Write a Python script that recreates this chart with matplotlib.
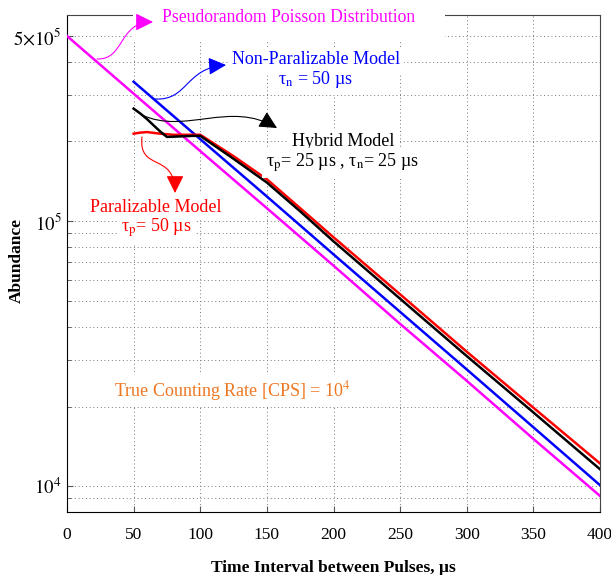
import numpy as np
import matplotlib
matplotlib.use("Agg")
import matplotlib.pyplot as plt
from matplotlib.patches import FancyArrowPatch, Rectangle
from matplotlib.path import Path
from matplotlib.ticker import FixedLocator, FixedFormatter, LogLocator, NullFormatter

plt.rcParams['font.family'] = ['Liberation Serif', 'DejaVu Serif']
plt.rcParams['mathtext.fontset'] = 'stix'

# --- datos ---
t_poisson = [0, 50, 100, 150, 200, 250, 300, 350, 400]
n_poisson = [5.0e5, 3.03e5, 1.84e5, 1.12e5, 6.8e4, 4.1e4, 2.5e4, 1.51e4, 9.2e3]

t_nonpar = [50, 100, 150, 200, 250, 300, 350, 400]
n_nonpar = [3.36e5, 2.04e5, 1.24e5, 7.5e4, 4.55e4, 2.76e4, 1.67e4, 1.01e4]

t_hybrid = [50, 55, 60, 65, 70, 75, 85, 95, 100, 125, 150, 175, 200, 250, 300, 350, 400]
n_hybrid = [2.66e5, 2.55e5, 2.43e5, 2.30e5, 2.18e5, 2.08e5, 2.09e5, 2.10e5, 2.10e5,
            1.72e5, 1.40e5, 1.09e5, 8.4e4, 5.1e4, 3.1e4, 1.9e4, 1.16e4]

t_paral = [50, 55, 60, 70, 80, 90, 100, 125, 150, 175, 200, 250, 300, 350, 400]
n_paral = [2.14e5, 2.16e5, 2.17e5, 2.14e5, 2.12e5, 2.12e5, 2.12e5, 1.76e5, 1.44e5,
           1.12e5, 8.7e4, 5.3e4, 3.22e4, 1.98e4, 1.22e4]

x_ticks = [0, 50, 100, 150, 200, 250, 300, 350, 400]
y_ticks = [1e4, 1e5, 5e5]
y_ticklabels = [r'$10^{4}$', r'$10^{5}$', r'$5{\times}10^{5}$']

W, H = 611, 575


def px(x, y):
    # pixeles de la imagen -> fraccion de figura
    return (x / W, 1 - y / H)


fig = plt.figure(figsize=(W / 100, H / 100), dpi=100)
ax = fig.add_axes([67 / W, 1 - 512 / H, (600 - 67) / W, (512 - 15) / H])

lw = 1.8
ax.plot(t_poisson, n_poisson, color='#FF00FF', lw=lw, zorder=3)
ax.plot(t_nonpar, n_nonpar, color='#0000FF', lw=lw, zorder=3)
ax.plot(t_paral, n_paral, color='#FF0000', lw=lw, zorder=3)
ax.plot(t_hybrid, n_hybrid, color='black', lw=lw, zorder=4)

ax.set_yscale('log')
ax.set_xlim(0, 400)
ax.set_ylim(8e3, 6e5)

ax.xaxis.set_major_locator(FixedLocator(x_ticks))
ax.yaxis.set_major_locator(FixedLocator(y_ticks))
ax.yaxis.set_major_formatter(FixedFormatter(y_ticklabels))
ax.yaxis.set_minor_locator(LogLocator(base=10, subs=np.arange(2, 10)))
ax.yaxis.set_minor_formatter(NullFormatter())

ax.tick_params(which='both', direction='in', colors='#555555', labelcolor='black',
               top=False, right=False)
ax.tick_params(which='major', length=4)
ax.tick_params(which='minor', length=3)
ax.tick_params(axis='x', labelsize=12.5, pad=11)
ax.tick_params(axis='y', labelsize=13.5, pad=4)

grid_kw = dict(color='#777777', linestyle=(0, (1, 2.8)), linewidth=0.7)
ax.grid(True, which='major', axis='x', **grid_kw)
ax.grid(True, which='both', axis='y', **grid_kw)

for s in ['top', 'right']:
    ax.spines[s].set_color('#444444')
for s in ['left', 'bottom']:
    ax.spines[s].set_color('black')

ax.set_xlabel('Time Interval between Pulses, µs', fontsize=12.5, fontweight='bold', labelpad=12)
fig.text(*px(17, 260), 'Abundance', fontsize=12.5, fontweight='bold', rotation=90,
         ha='center', va='center')

# tapa blanca detras del titulo (corta el borde superior y la rejilla)
fig.add_artist(Rectangle(px(133, 40), (445 - 133) / W, 40 / H, transform=fig.transFigure,
                         facecolor='white', edgecolor='none', zorder=2))

# --- textos ---
box = dict(facecolor='white', edgecolor='none', pad=3)
fig.text(*px(289, 17), 'Pseudorandom Poisson Distribution', color='#FF00FF',
         fontsize=12.7, ha='center', va='center', zorder=3)
fig.text(*px(316, 60), 'Non-Paralizable Model', color='#0000FF', fontsize=13,
         ha='center', va='center', bbox=box)
fig.text(*px(316, 80), r'τ$_\mathrm{n}$ = 50 µs', color='#0000FF', fontsize=13,
         ha='center', va='center', bbox=box)
fig.text(*px(343, 142), 'Hybrid Model', color='black', fontsize=13,
         ha='center', va='center', bbox=box)
fig.text(*px(343, 163), r'τ$_\mathrm{p}$= 25 µs , τ$_\mathrm{n}$= 25 µs', color='black',
         fontsize=13, ha='center', va='center', bbox=box)
fig.text(*px(156, 207), 'Paralizable Model', color='#FF0000', fontsize=13,
         ha='center', va='center', bbox=box)
fig.text(*px(156, 228), r'τ$_\mathrm{p}$= 50 µs', color='#FF0000', fontsize=13,
         ha='center', va='center', bbox=box)
fig.text(*px(232, 391), r'True Counting Rate [CPS] = 10$^{4}$', color='#EE7722',
         fontsize=13, ha='center', va='center', bbox=box)


# --- flechas curvas ---
def curved_arrow(p0, c1, c2, p3, color):
    verts = [px(*p0), px(*c1), px(*c2), px(*p3)]
    path = Path(verts, [Path.MOVETO, Path.CURVE4, Path.CURVE4, Path.CURVE4])
    arr = FancyArrowPatch(path=path, arrowstyle='-|>,head_length=0.9,head_width=0.45',
                          mutation_scale=12, color=color, lw=0.8,
                          transform=fig.transFigure, zorder=6)
    fig.add_artist(arr)


curved_arrow((97, 59), (125, 60), (118, 22), (153, 22), '#FF00FF')
curved_arrow((155, 99), (188, 101), (185, 68), (226, 65), '#0000FF')
curved_arrow((142, 115), (185, 135), (230, 100), (277, 128), 'black')
curved_arrow((142, 137), (138, 172), (175, 152), (175, 193), '#FF0000')

fig.savefig('out.png', dpi=100)
